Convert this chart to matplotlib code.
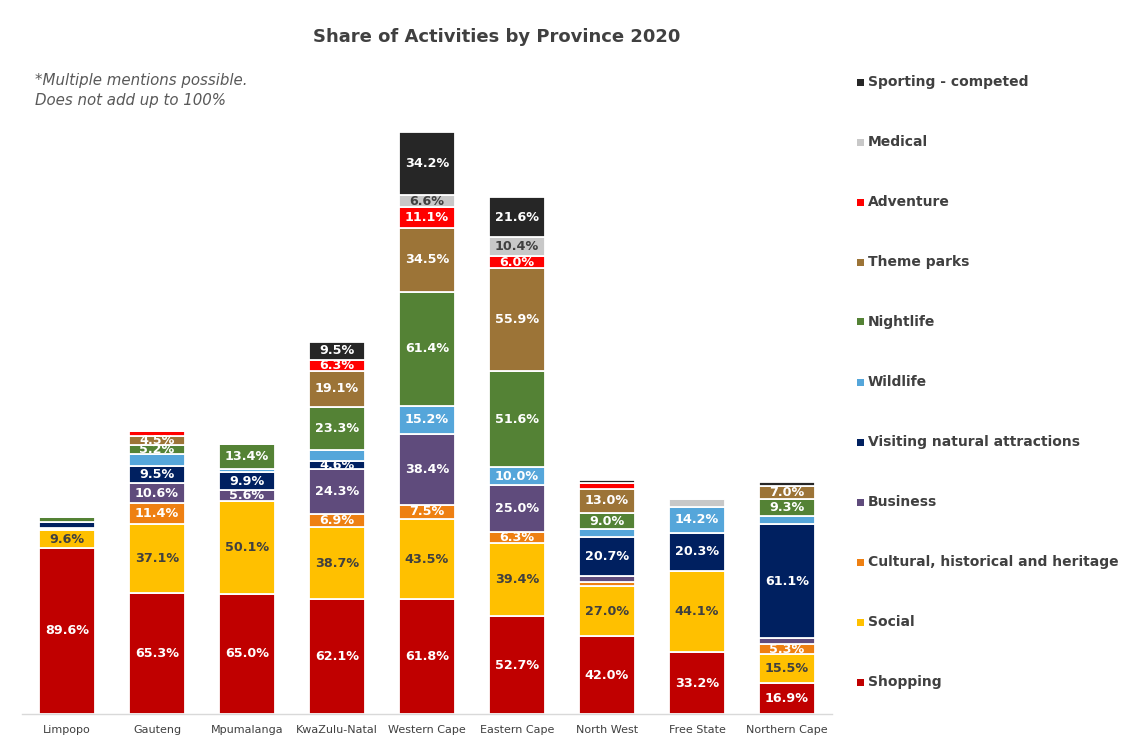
import matplotlib
matplotlib.use("Agg")
import matplotlib.pyplot as plt
import numpy as np

provinces = ["Limpopo", "Gauteng", "Mpumalanga", "KwaZulu-Natal", "Western Cape",
             "Eastern Cape", "North West", "Free State", "Northern Cape"]

shopping  = [89.6, 65.3, 65.0, 62.1, 61.8, 52.7, 42.0, 33.2, 16.9]
social    = [9.6, 37.1, 50.1, 38.7, 43.5, 39.4, 27.0, 44.1, 15.5]
cultural  = [0.5, 11.4, 0.0, 6.9, 7.5, 6.3, 2.3, 0.0, 5.3]
business  = [0.5, 10.6, 5.6, 24.3, 38.4, 25.0, 3.4, 0.0, 3.5]
visiting  = [3.3, 9.5, 9.9, 4.6, 0.0, 0.0, 20.7, 20.3, 61.1]
wildlife  = [0.0, 6.3, 1.5, 6.0, 15.2, 10.0, 4.2, 14.2, 4.3]
nightlife = [2.7, 5.2, 13.4, 23.3, 61.4, 51.6, 9.0, 0.0, 9.3]
theme     = [0.0, 4.5, 0.0, 19.1, 34.5, 55.9, 13.0, 0.0, 7.0]
adventure = [0.0, 2.8, 0.0, 6.3, 11.1, 6.0, 3.0, 0.0, 0.0]
medical   = [0.0, 0.0, 0.0, 0.0, 6.6, 10.4, 0.0, 4.0, 0.0]
sporting  = [0.0, 0.0, 0.0, 9.5, 34.2, 21.6, 1.8, 0.0, 2.5]

series_names = ["Shopping", "Social", "Cultural, historical and heritage", "Business",
                "Visiting natural attractions", "Wildlife", "Nightlife", "Theme parks",
                "Adventure", "Medical", "Sporting - competed"]
series_values = [shopping, social, cultural, business, visiting, wildlife, nightlife,
                 theme, adventure, medical, sporting]
colors = ["#C00000", "#FFC000", "#EE8012", "#5F4B7C", "#002060", "#55A6DA",
          "#548235", "#9C7437", "#FF0000", "#C8C8C8", "#262626"]
label_colors = ["white", "#404040", "white", "white", "white", "white",
                "white", "white", "white", "#404040", "white"]
# segments that carry no data label in the reference (series index, province index)
no_label = {(5, 1), (5, 3)}

W, H = 1138, 742
fig = plt.figure(figsize=(W / 100, H / 100), dpi=100)
ax = fig.add_axes([22 / W, 28 / H, (832 - 22) / W, (714 - 60) / H])

x = np.arange(len(provinces))
bottom = np.zeros(len(provinces))
for si, (name, vals, col) in enumerate(zip(series_names, series_values, colors)):
    vals = np.array(vals)
    bars = ax.bar(x, vals, width=0.62, bottom=bottom, color=col,
                  edgecolor="white", linewidth=1.3, label=name, zorder=2)
    for pi, (rect, v) in enumerate(zip(bars, vals)):
        if v >= 4.5 and (si, pi) not in no_label:
            t = ax.text(rect.get_x() + rect.get_width() / 2, bottom[pi] + v / 2,
                        f"{v:.1f}%", ha="center", va="center", fontsize=9.2,
                        fontweight="bold", color=label_colors[si], zorder=3)
            t.set_clip_path(rect)
    bottom += vals

ax.set_xlim(-0.5, len(provinces) - 0.5)
ax.set_ylim(0, (714 - 60) / 1.853)
ax.set_xticks(x)
ax.set_xticklabels(provinces, fontsize=8, color="#404040")
ax.tick_params(axis="x", length=0, pad=8)
ax.set_yticks([])
for s in ["left", "right", "top"]:
    ax.spines[s].set_visible(False)
ax.spines["bottom"].set_color("#D9D9D9")
ax.spines["bottom"].set_linewidth(1)

fig.text(497 / W, 1 - 37 / H, "Share of Activities by Province 2020", ha="center",
         va="center", fontsize=13, fontweight="bold", color="#404040")
fig.text(35 / W, 1 - 80 / H, "*Multiple mentions possible.", ha="left", va="center",
         fontsize=10.8, style="italic", color="#595959")
fig.text(35 / W, 1 - 101 / H, "Does not add up to 100%", ha="left", va="center",
         fontsize=10.8, style="italic", color="#595959")

# legend (reverse order, top = last series)
for k, si in enumerate(range(len(series_names) - 1, -1, -1)):
    yp = 82 + 60 * k
    fig.patches.append(plt.Rectangle((857 / W, 1 - (yp + 3.5) / H), 7 / W, 7 / H,
                                     transform=fig.transFigure, facecolor=colors[si],
                                     edgecolor="none"))
    fig.text(868 / W, 1 - yp / H, series_names[si], ha="left", va="center",
             fontsize=10, fontweight="bold", color="#404040")

fig.savefig("out.png", dpi=100)
